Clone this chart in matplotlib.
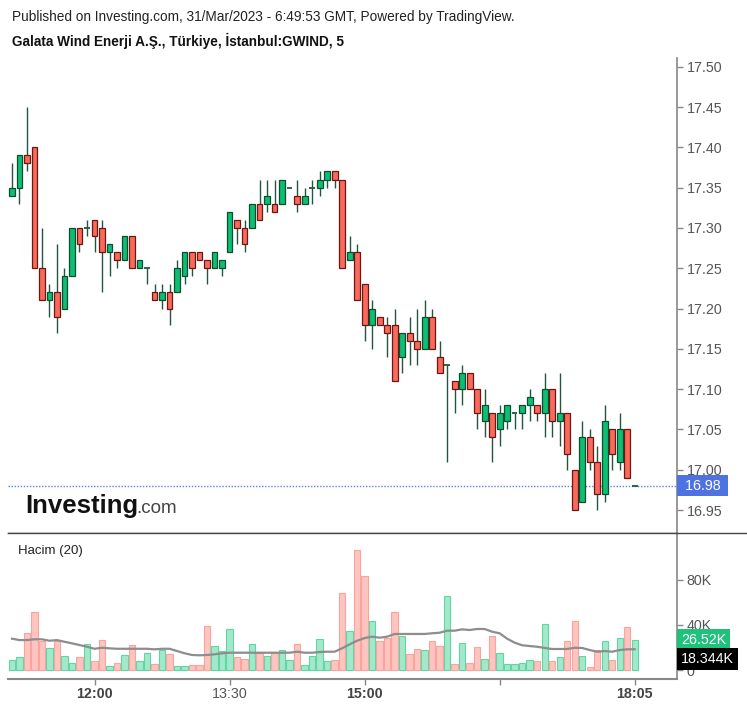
import matplotlib
matplotlib.use('Agg')
import matplotlib.pyplot as plt
import numpy as np
from matplotlib.lines import Line2D

plt.rcParams['font.family'] = ['Liberation Sans', 'DejaVu Sans']

# ---------------- data (5-minute candles) ----------------
opens = [17.34, 17.35, 17.39, 17.40, 17.25, 17.21, 17.22, 17.20, 17.24, 17.30,
         17.30, 17.31, 17.30, 17.27, 17.27, 17.26, 17.29, 17.25, 17.25, 17.22,
         17.21, 17.22, 17.22, 17.24, 17.27, 17.27, 17.26, 17.25, 17.25, 17.27,
         17.31, 17.30, 17.30, 17.33, 17.33, 17.33, 17.33, 17.35, 17.34, 17.33,
         17.35, 17.35, 17.36, 17.37, 17.36, 17.26, 17.27, 17.23, 17.18, 17.19,
         17.18, 17.18, 17.14, 17.17, 17.16, 17.15, 17.19, 17.14, 17.13, 17.11,
         17.10, 17.12, 17.10, 17.06, 17.07, 17.05, 17.06, 17.07, 17.07, 17.08,
         17.08, 17.07, 17.10, 17.06, 17.07, 17.00, 16.96, 17.04, 17.01, 16.97,
         17.05, 17.01, 17.05, 16.98]
highs = [17.38, 17.39, 17.45, 17.40, 17.30, 17.23, 17.28, 17.25, 17.30, 17.30,
         17.31, 17.31, 17.31, 17.28, 17.27, 17.29, 17.29, 17.26, 17.25, 17.23,
         17.23, 17.23, 17.26, 17.27, 17.27, 17.27, 17.26, 17.27, 17.26, 17.32,
         17.31, 17.31, 17.33, 17.36, 17.36, 17.36, 17.36, 17.35, 17.36, 17.35,
         17.36, 17.37, 17.37, 17.37, 17.36, 17.29, 17.28, 17.23, 17.21, 17.19,
         17.19, 17.20, 17.17, 17.19, 17.20, 17.21, 17.20, 17.16, 17.13, 17.11,
         17.13, 17.12, 17.10, 17.10, 17.07, 17.08, 17.08, 17.07, 17.08, 17.10,
         17.08, 17.12, 17.10, 17.12, 17.07, 17.00, 17.06, 17.05, 17.03, 17.08,
         17.05, 17.07, 17.05, 16.98]
lows = [17.34, 17.33, 17.37, 17.25, 17.21, 17.19, 17.17, 17.20, 17.24, 17.27,
        17.29, 17.27, 17.22, 17.24, 17.25, 17.26, 17.25, 17.25, 17.23, 17.21,
        17.20, 17.18, 17.22, 17.23, 17.24, 17.26, 17.23, 17.25, 17.24, 17.27,
        17.28, 17.27, 17.30, 17.31, 17.32, 17.32, 17.33, 17.35, 17.32, 17.33,
        17.33, 17.34, 17.35, 17.35, 17.25, 17.26, 17.21, 17.16, 17.15, 17.18,
        17.14, 17.11, 17.12, 17.13, 17.13, 17.15, 17.15, 17.12, 17.01, 17.07,
        17.08, 17.10, 17.05, 17.04, 17.01, 17.03, 17.05, 17.05, 17.05, 17.06,
        17.06, 17.04, 17.04, 17.03, 17.00, 16.95, 16.96, 17.00, 16.95, 16.96,
        17.00, 17.00, 16.99, 16.98]
closes = [17.35, 17.39, 17.38, 17.25, 17.21, 17.22, 17.19, 17.24, 17.30, 17.28,
          17.30, 17.29, 17.27, 17.28, 17.26, 17.29, 17.25, 17.26, 17.25, 17.21,
          17.22, 17.20, 17.25, 17.27, 17.25, 17.26, 17.25, 17.27, 17.26, 17.32,
          17.30, 17.28, 17.33, 17.31, 17.34, 17.32, 17.36, 17.35, 17.33, 17.34,
          17.35, 17.36, 17.37, 17.36, 17.25, 17.27, 17.21, 17.18, 17.20, 17.18,
          17.17, 17.11, 17.17, 17.16, 17.15, 17.19, 17.15, 17.12, 17.13, 17.10,
          17.12, 17.10, 17.07, 17.08, 17.04, 17.07, 17.08, 17.07, 17.08, 17.09,
          17.07, 17.10, 17.06, 17.07, 17.02, 16.95, 17.04, 17.01, 16.97, 17.06,
          17.02, 17.05, 16.99, 16.98]
# volume in thousands
volumes = [8.8, 11.2, 33.0, 51.1, 25.9, 19.7, 25.9, 12.1, 6.5, 11.2,
           22.7, 7.7, 26.5, 3.5, 6.5, 13.0, 21.9, 7.7, 15.3, 5.3,
           17.7, 14.2, 3.5, 3.5, 4.2, 4.2, 38.9, 21.2, 16.8, 36.3,
           11.2, 10.0, 23.0, 14.8, 12.4, 14.8, 17.7, 8.8, 23.0, 4.4,
           12.4, 27.7, 7.7, 8.8, 67.9, 34.5, 106.2, 83.2, 43.4, 25.7,
           28.6, 51.1, 30.1, 14.2, 18.8, 17.7, 25.7, 21.2, 65.2, 5.3,
           24.2, 6.5, 20.1, 9.7, 30.1, 15.3, 5.0, 5.0, 6.5, 8.8,
           7.7, 40.7, 7.7, 11.2, 25.7, 43.4, 12.4, 2.4, 17.7, 25.7,
           8.8, 28.6, 37.8, 26.52]
# 20-period volume moving average (thousands)
volume_ma = [27.7, 26.5, 26.5, 27.2, 27.2, 25.9, 26.5, 25.0, 23.6, 22.1,
             20.6, 18.8, 19.7, 19.2, 18.8, 18.8, 18.8, 18.8, 18.8, 18.3,
             18.8, 18.8, 16.8, 14.8, 13.3, 13.0, 13.3, 13.9, 14.8, 15.3,
             15.3, 15.3, 15.3, 15.3, 15.3, 15.3, 15.3, 15.3, 16.2, 15.3,
             15.3, 15.9, 16.2, 16.2, 19.2, 22.7, 25.9, 28.3, 29.5, 28.6,
             29.5, 31.9, 31.9, 31.9, 31.9, 31.9, 32.5, 33.0, 34.8, 34.8,
             36.0, 35.4, 36.3, 36.3, 33.9, 32.5, 27.7, 24.2, 21.9, 21.2,
             20.6, 19.5, 18.6, 18.6, 18.6, 19.7, 19.5, 17.7, 16.2, 16.8,
             16.2, 17.7, 18.3, 18.344]
last_price = 16.98
price_ticks = [16.95, 17.00, 17.05, 17.10, 17.15, 17.20, 17.25, 17.30, 17.35, 17.40, 17.45, 17.50]
vol_ticks = [0, 40, 80]
vol_tick_labels = ['0', '40K', '80K']
time_tick_pos = [11, 29, 47, 65, 83]
time_tick_labels = ['12:00', '13:30', '15:00', '', '18:05']
time_tick_bold = [True, False, True, False, True]

# ---------------- figure ----------------
W, H = 747, 707
fig = plt.figure(figsize=(W / 100, H / 100), dpi=100)
left_px, right_px = 8, 676.7
top_px, sep_px, bot_px = 58, 533.3, 679
ax = fig.add_axes([left_px / W, 1 - sep_px / H, (right_px - left_px) / W, (sep_px - top_px) / H])
axv = fig.add_axes([left_px / W, 1 - bot_px / H, (right_px - left_px) / W, (bot_px - sep_px) / H], sharex=ax)

o = np.array(opens); c = np.array(closes); hi = np.array(highs); lo = np.array(lows)
x = np.arange(len(o))
up = c >= o

GREEN = '#0dbf73'
GREEN_EDGE = '#0c4f30'
RED = '#f9695c'
RED_EDGE = '#6b1712'
WICK = '#23553f'

ax.vlines(x, lo, hi, color=WICK, lw=1.0, zorder=1)
body = o != c
ax.bar(x[body], np.abs(c - o)[body], bottom=np.minimum(o, c)[body], width=0.78,
       color=np.where(up[body], GREEN, RED), edgecolor=np.where(up[body], GREEN_EDGE, RED_EDGE),
       linewidth=0.9, zorder=2)
ax.hlines(c[~body], x[~body] - 0.38, x[~body] + 0.38, color=WICK, lw=1.3, zorder=2)

ax.axhline(last_price, color='#5d82f0', lw=1.0, ls=(0, (1, 1.2)), zorder=0)

ax.set_xlim(-0.53, 88.6)
ax.set_ylim(16.9211, 17.5108)
ax.yaxis.tick_right()
ax.set_yticks(price_ticks)
ax.set_yticklabels([f'{v:.2f}' for v in price_ticks])
ax.tick_params(axis='y', length=4, width=1, color='#888', labelcolor='#555', labelsize=10.3, pad=3)
ax.tick_params(axis='x', bottom=False, labelbottom=False)
for s in ['top', 'left']:
    ax.spines[s].set_visible(False)
ax.spines['right'].set_color('#888')
ax.spines['right'].set_linewidth(1.2)
ax.spines['bottom'].set_color('#444')
ax.spines['bottom'].set_linewidth(1.0)

ax.text(1.006, last_price, f' {last_price:.2f} ', transform=ax.get_yaxis_transform(),
        ha='left', va='center', fontsize=10.3, color='white', clip_on=False,
        bbox=dict(boxstyle='square,pad=0.25', fc='#4f72e3', ec='none'))

# ---------------- volume ----------------
v = np.array(volumes)
axv.bar(x, v, width=0.84, color=np.where(up, '#a3e8cb', '#fdc4c0'),
        edgecolor=np.where(up, '#5ed8a2', '#fba39d'), linewidth=0.8, zorder=1)
axv.plot(x, volume_ma, color='#8d8d8d', lw=1.6, zorder=2)
axv.set_ylim(-7.96, 121)
axv.yaxis.tick_right()
axv.set_yticks(vol_ticks)
axv.set_yticklabels(vol_tick_labels)
axv.tick_params(axis='y', length=4, width=1, color='#888', labelcolor='#555', labelsize=10.3, pad=3)
axv.set_xticks(time_tick_pos)
axv.set_xticklabels(time_tick_labels)
axv.tick_params(axis='x', length=4, width=1, color='#888', labelsize=10.3, pad=2)
for lab, b in zip(axv.get_xticklabels(), time_tick_bold):
    lab.set_fontweight('bold' if b else 'normal')
    lab.set_color('#444' if b else '#555')
for s in ['top', 'left']:
    axv.spines[s].set_visible(False)
axv.spines['right'].set_color('#888')
axv.spines['right'].set_linewidth(1.2)
axv.spines['bottom'].set_color('#888')
axv.spines['bottom'].set_linewidth(1.5)

axv.annotate(f'{volumes[-1]:.2f}K', xy=(1.0, volumes[-1]), xycoords=axv.get_yaxis_transform(),
             xytext=(3, 0), textcoords='offset points', ha='left', va='center',
             fontsize=10.3, color='white', annotation_clip=False, zorder=5,
             bbox=dict(boxstyle='square,pad=0.28', fc='#1fc17b', ec='none'))
axv.annotate(f'{volume_ma[-1]:.3f}K', xy=(1.0, volumes[-1]), xycoords=axv.get_yaxis_transform(),
             xytext=(3, -14), textcoords='offset points', ha='left', va='center',
             fontsize=10.3, color='white', annotation_clip=False, zorder=5,
             bbox=dict(boxstyle='square,pad=0.28', fc='#000000', ec='none'))

fig.text(18 / W, 1 - 551 / H, 'Hacim (20)', fontsize=9.5, color='#222', va='center', ha='left')

# separator across full width
fig.add_artist(Line2D([left_px / W, 1.0], [1 - sep_px / H, 1 - sep_px / H], color='#444', lw=1.0))

# ---------------- header ----------------
fig.text(12 / W, 1 - 17 / H, 'Published on Investing.com, 31/Mar/2023 - 6:49:53 GMT, Powered by TradingView.',
         fontsize=9.8, color='#222', va='center', ha='left')
fig.text(12 / W, 1 - 41 / H, 'Galata Wind Enerji A.Ş., Türkiye, İstanbul:GWIND, 5',
         fontsize=9.8, color='#111', va='center', ha='left', fontweight='bold')

# ---------------- logo ----------------
fig.text(25 / W, 1 - 513 / H, 'Investing', fontsize=18.5, fontweight='bold', color='#111',
         va='baseline', ha='left')
fig.text(136 / W, 1 - 513 / H, '.com', fontsize=13.5, color='#444', va='baseline', ha='left')

fig.savefig('out.png', dpi=100)
